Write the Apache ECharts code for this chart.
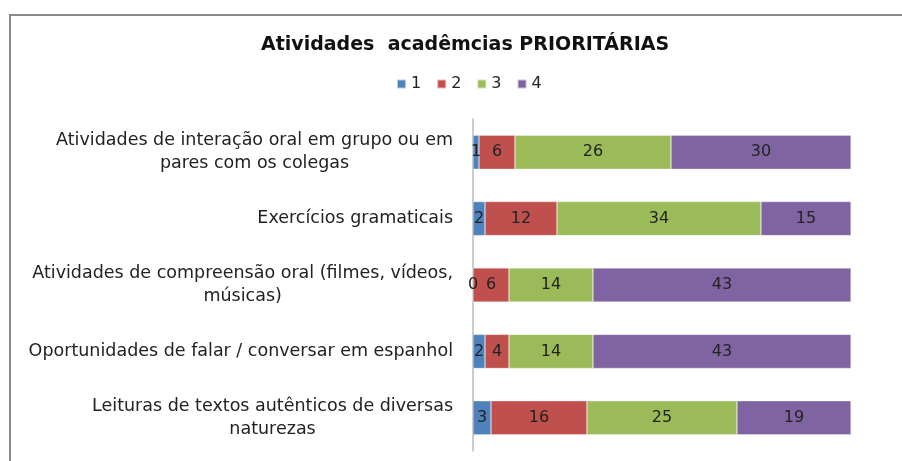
<meta charset="utf-8">
<script src="https://cdn.jsdelivr.net/npm/echarts/dist/echarts.min.js"></script>
<div id="main" style="position:absolute;left:0;top:0;width:902px;height:461px;"></div>

<script type="text/javascript">
// categories, top to bottom
const categorias = [
  'Atividades de interação oral em grupo ou em\npares com os colegas',
  'Exercícios gramaticais',
  'Atividades de compreensão oral (filmes, vídeos,\nmúsicas)',
  'Oportunidades de falar / conversar em espanhol',
  'Leituras de textos autênticos de diversas\nnaturezas'
]
const s1 = [1, 2, 0, 2, 3]
const s2 = [6, 12, 6, 4, 16]
const s3 = [26, 34, 14, 14, 25]
const s4 = [30, 15, 43, 43, 19]
const nomes = ['1', '2', '3', '4']
const cores = ['#4F81BD', '#C0504D', '#9BBB59', '#8064A2']

const fonte = 'DejaVu Sans'
let myChart = echarts.init(main)

const serie = (nome, dados, cor) => ({
  name: nome,
  type: 'bar',
  stack: 'total',
  barWidth: 34,
  data: dados,
  itemStyle: {color: cor, borderColor: 'rgba(255,255,255,0.6)', borderWidth: 0.5},
  label: {show: true, position: 'inside', color: '#222', fontFamily: fonte, fontSize: 16},
})

myChart.setOption({
  backgroundColor: '#fff',
  animation: false,
  title: {
    text: 'Atividades  acadêmcias PRIORITÁRIAS',
    left: 256,
    top: 31,
    textStyle: {fontFamily: fonte, fontSize: 19, fontWeight: 'bold', color: '#111'},
  },
  legend: {
    data: nomes,
    top: 71,
    left: 391,
    itemWidth: 9,
    itemHeight: 9,
    itemGap: 15,
    icon: 'rect',
    textStyle: {fontFamily: fonte, fontSize: 16, color: '#222'},
  },
  grid: {left: 473, right: 51, top: 119, bottom: 10},
  xAxis: {
    type: 'value',
    min: 0,
    max: 63,
    show: false,
  },
  yAxis: {
    type: 'category',
    inverse: true,
    data: categorias,
    axisLine: {lineStyle: {color: '#bbb', width: 1.5}},
    axisTick: {show: false},
    axisLabel: {
      margin: 20,
      align: 'right',
      lineHeight: 23,
      formatter: v => v.split('\n').map(l => '{c|' + l + '}').join('\n'),
      rich: {c: {align: 'center', fontFamily: fonte, fontSize: 17.5, color: '#222', lineHeight: 23}},
    },
  },
  series: [
    serie(nomes[0], s1, cores[0]),
    serie(nomes[1], s2, cores[1]),
    serie(nomes[2], s3, cores[2]),
    serie(nomes[3], s4, cores[3]),
  ],
  graphic: [{
    type: 'polyline',
    shape: {points: [[10, 461], [10, 15], [902, 15]]},
    style: {stroke: '#8a8a8a', lineWidth: 2, fill: null},
  }],
})
</script>
